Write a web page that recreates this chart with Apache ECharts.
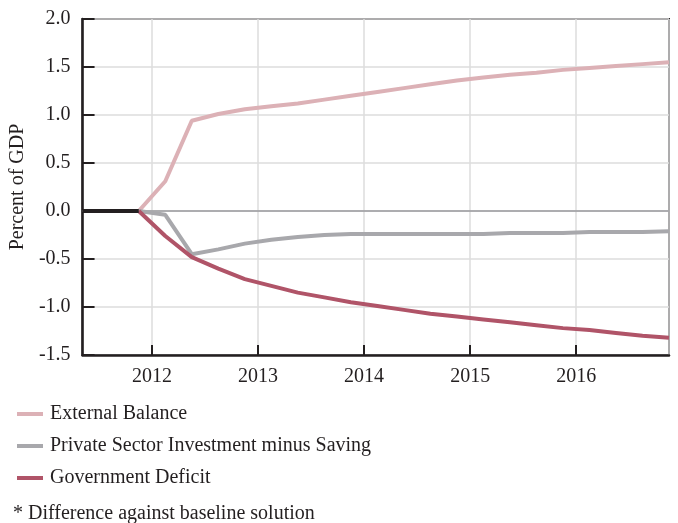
<!DOCTYPE html>
<html>
<head>
<meta charset="utf-8">
<script src="https://cdn.jsdelivr.net/npm/echarts@6/dist/echarts.min.js"></script>
<style>
html,body{margin:0;padding:0;background:#fff;}
#c{width:678px;height:523px;}
</style>
</head>
<body>
<div id="c"></div>
<script>
// Quarter mid-points (year fractions)
const quarters = [2011.875, 2012.125, 2012.375, 2012.625, 2012.875, 2013.125, 2013.375, 2013.625, 2013.875,
  2014.125, 2014.375, 2014.625, 2014.875, 2015.125, 2015.375, 2015.625, 2015.875,
  2016.125, 2016.375, 2016.625, 2016.875];
const externalBalance = [0, 0.31, 0.94, 1.01, 1.06, 1.09, 1.12, 1.16, 1.20,
  1.24, 1.28, 1.32, 1.36, 1.39, 1.42, 1.44, 1.47, 1.49, 1.51, 1.53, 1.55];
const privateSector = [0, -0.04, -0.45, -0.40, -0.34, -0.30, -0.27, -0.25, -0.24,
  -0.24, -0.24, -0.24, -0.24, -0.24, -0.23, -0.23, -0.23, -0.22, -0.22, -0.22, -0.21];
const govDeficit = [0, -0.26, -0.48, -0.60, -0.71, -0.78, -0.85, -0.90, -0.95,
  -0.99, -1.03, -1.07, -1.10, -1.13, -1.16, -1.19, -1.22, -1.24, -1.27, -1.30, -1.32];
const historyX = [2011.345, 2011.875];
const historyY = [0, 0];
const seriesNames = ['External Balance', 'Private Sector Investment minus Saving', 'Government Deficit'];
const footnote = '* Difference against baseline solution';
const yAxisName = 'Percent of GDP';

const FONT = '"Liberation Serif", "DejaVu Serif", serif';
const TXT = '#231f20';
const FS = 20;
const zip = (xs, ys) => xs.map((x, i) => [x, ys[i]]);

const chart = echarts.init(document.getElementById('c'), null, {renderer: 'canvas'});
chart.setOption({
  backgroundColor: '#fff',
  animation: false,
  textStyle: {fontFamily: FONT, color: TXT},
  title: {
    text: footnote, left: 8, top: 499,
    textStyle: {fontFamily: FONT, fontSize: FS, fontWeight: 'normal', color: TXT}
  },
  legend: {
    orient: 'vertical', left: 12, top: 399,
    icon: 'rect', itemWidth: 26, itemHeight: 4, itemGap: 12,
    data: seriesNames,
    textStyle: {fontFamily: FONT, fontSize: FS, color: TXT, lineHeight: 20, padding: [0, 0, 0, 2]}
  },
  grid: {
    left: 82, right: 9, top: 19, bottom: 168,
    show: true, borderColor: TXT, borderWidth: 2, containLabel: false
  },
  xAxis: {
    type: 'value', min: 2011.345, max: 2016.875,
    minInterval: 1, maxInterval: 1,
    axisLine: {show: true, onZero: false, lineStyle: {color: TXT, width: 2.5}},
    axisTick: {show: true, inside: true, length: 10, lineStyle: {color: TXT, width: 2}},
    axisLabel: {
      fontFamily: FONT, fontSize: FS, color: TXT, margin: 12,
      showMinLabel: false, showMaxLabel: false,
      formatter: v => (Math.abs(v - Math.round(v)) < 1e-6 ? String(Math.round(v)) : '')
    },
    splitLine: {show: true, lineStyle: {color: '#dcdcdc', width: 1.5}}
  },
  yAxis: {
    type: 'value', min: -1.5, max: 2, interval: 0.5,
    name: yAxisName, nameLocation: 'middle', nameGap: 48,
    nameTextStyle: {fontFamily: FONT, fontSize: FS, color: TXT},
    axisLine: {show: true, lineStyle: {color: TXT, width: 2.5}},
    axisTick: {show: true, inside: true, length: 12, lineStyle: {color: TXT, width: 2}},
    axisLabel: {fontFamily: FONT, fontSize: FS, color: TXT, margin: 12,
      formatter: v => v.toFixed(1)},
    splitLine: {show: true, lineStyle: {color: '#dcdcdc', width: 1.5}}
  },
  series: [
    {
      name: seriesNames[0], type: 'line', data: zip(quarters, externalBalance),
      symbol: 'none', color: '#dcb1b6', lineStyle: {width: 4, color: '#dcb1b6'}, z: 3
    },
    {
      name: seriesNames[1], type: 'line', data: zip(quarters, privateSector),
      symbol: 'none', color: '#a8a8ac', lineStyle: {width: 4, color: '#a8a8ac'}, z: 3,
      markLine: {
        silent: true, symbol: 'none', label: {show: false},
        lineStyle: {color: '#9a9a9e', width: 1.5, type: 'solid'},
        data: [{yAxis: 0}], z: 2
      }
    },
    {
      name: seriesNames[2], type: 'line', data: zip(quarters, govDeficit),
      symbol: 'none', color: '#b05468', lineStyle: {width: 4, color: '#b05468'}, z: 4
    },
    {
      name: 'history', type: 'line', data: zip(historyX, historyY),
      symbol: 'none', lineStyle: {width: 4, color: '#231f20'}, z: 5
    }
  ]
});
</script>
</body>
</html>
